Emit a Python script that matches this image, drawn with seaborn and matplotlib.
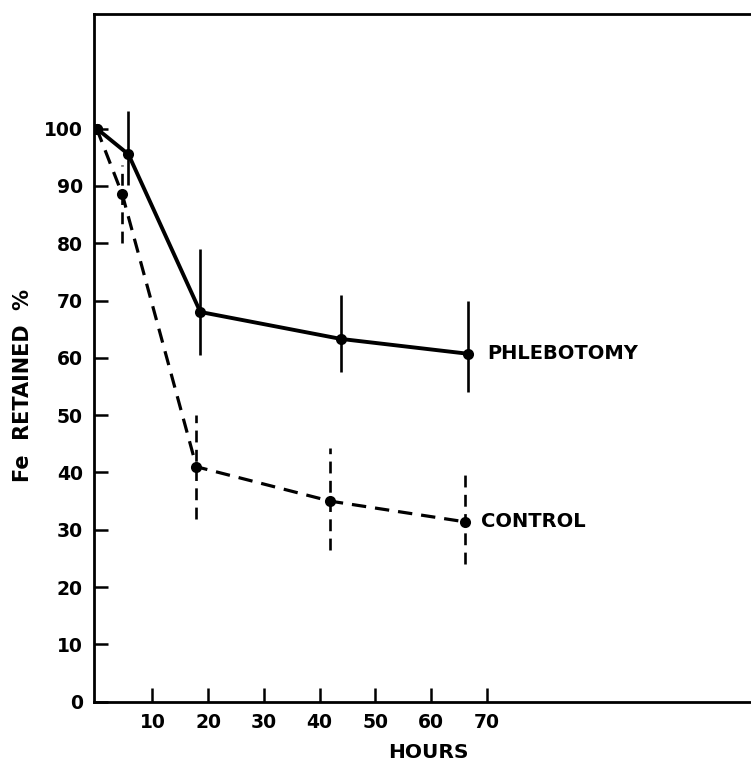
import matplotlib
matplotlib.use("Agg")
import matplotlib.pyplot as plt
import seaborn as sns
import pandas as pd

# Data
phleb_hours = [0, 5.7, 18.6, 43.8, 66.7]
phleb_values = [100, 95.5, 68.0, 63.3, 60.7]
phleb_low = [None, 90.2, 60.5, 57.6, 54.1]
phleb_high = [None, 103.1, 78.9, 71.0, 69.9]

ctrl_hours = [0, 4.6, 17.9, 41.9, 66.0]
ctrl_values = [100, 88.5, 41.0, 35.0, 31.4]
ctrl_low = [None, 80.1, 31.8, 26.5, 24.0]
ctrl_high = [None, 93.7, 50.0, 44.3, 40.5]

x_ticks = [10, 20, 30, 40, 50, 60, 70]
y_ticks = [0, 10, 20, 30, 40, 50, 60, 70, 80, 90, 100]

sns.set_theme(style="ticks")
plt.rcParams["font.family"] = ["DejaVu Sans"]
plt.rcParams["font.weight"] = "bold"
plt.rcParams["text.color"] = "black"
plt.rcParams["xtick.color"] = "black"
plt.rcParams["ytick.color"] = "black"
plt.rcParams["xtick.labelcolor"] = "black"
plt.rcParams["ytick.labelcolor"] = "black"

df = pd.concat([
    pd.DataFrame({"hours": phleb_hours, "value": phleb_values, "group": "PHLEBOTOMY"}),
    pd.DataFrame({"hours": ctrl_hours, "value": ctrl_values, "group": "CONTROL"}),
])

fig = plt.figure(figsize=(7.51, 7.72), dpi=100)
ax = fig.add_axes([0.125, 0.091, 0.875, 0.891])

sns.lineplot(data=df[df.group == "PHLEBOTOMY"], x="hours", y="value", ax=ax,
             color="black", linewidth=2.8, marker="o", markersize=8,
             markeredgewidth=0, legend=False)
sns.lineplot(data=df[df.group == "CONTROL"], x="hours", y="value", ax=ax,
             color="black", linewidth=2.3, marker="o", markersize=8,
             markeredgewidth=0, legend=False, dashes=False)
ax.lines[-1].set_linestyle((0, (4.5, 2.8)))

for h, lo, hi in zip(phleb_hours, phleb_low, phleb_high):
    if lo is not None:
        ax.vlines(h, lo, hi, colors="black", linewidth=1.9)
for h, lo, hi in zip(ctrl_hours, ctrl_low, ctrl_high):
    if lo is not None:
        ax.vlines(h, lo, hi, colors="black", linewidth=1.9, linestyles=(0, (4.5, 2.8)))

ax.text(phleb_hours[-1] + 3.3, phleb_values[-1], "PHLEBOTOMY", fontsize=14,
        fontweight="bold", va="center", ha="left", color="black")
ax.text(ctrl_hours[-1] + 3.0, ctrl_values[-1], "CONTROL", fontsize=14,
        fontweight="bold", va="center", ha="left", color="black")

ax.set_xlim(-0.5, 117.4)
ax.set_ylim(0, 120)
ax.set_xticks(x_ticks)
ax.set_yticks(y_ticks)
ax.tick_params(direction="in", length=10, width=1.8, labelsize=13.5, pad=8,
               colors="black")
for lbl in ax.get_xticklabels() + ax.get_yticklabels():
    lbl.set_fontweight("bold")
for s in ["left", "bottom", "top"]:
    ax.spines[s].set_linewidth(2.0)
    ax.spines[s].set_color("black")
ax.spines["right"].set_visible(False)

ax.set_xlabel("")
ax.set_ylabel("")
fig.text(0.57, 0.013, "HOURS", fontsize=14.5, fontweight="bold", ha="center",
         va="bottom", color="black")
fig.text(0.03, 0.5, "Fe  RETAINED  %", fontsize=15, fontweight="bold", rotation=90,
         ha="center", va="center", color="black")

fig.savefig("out.png", dpi=100)
